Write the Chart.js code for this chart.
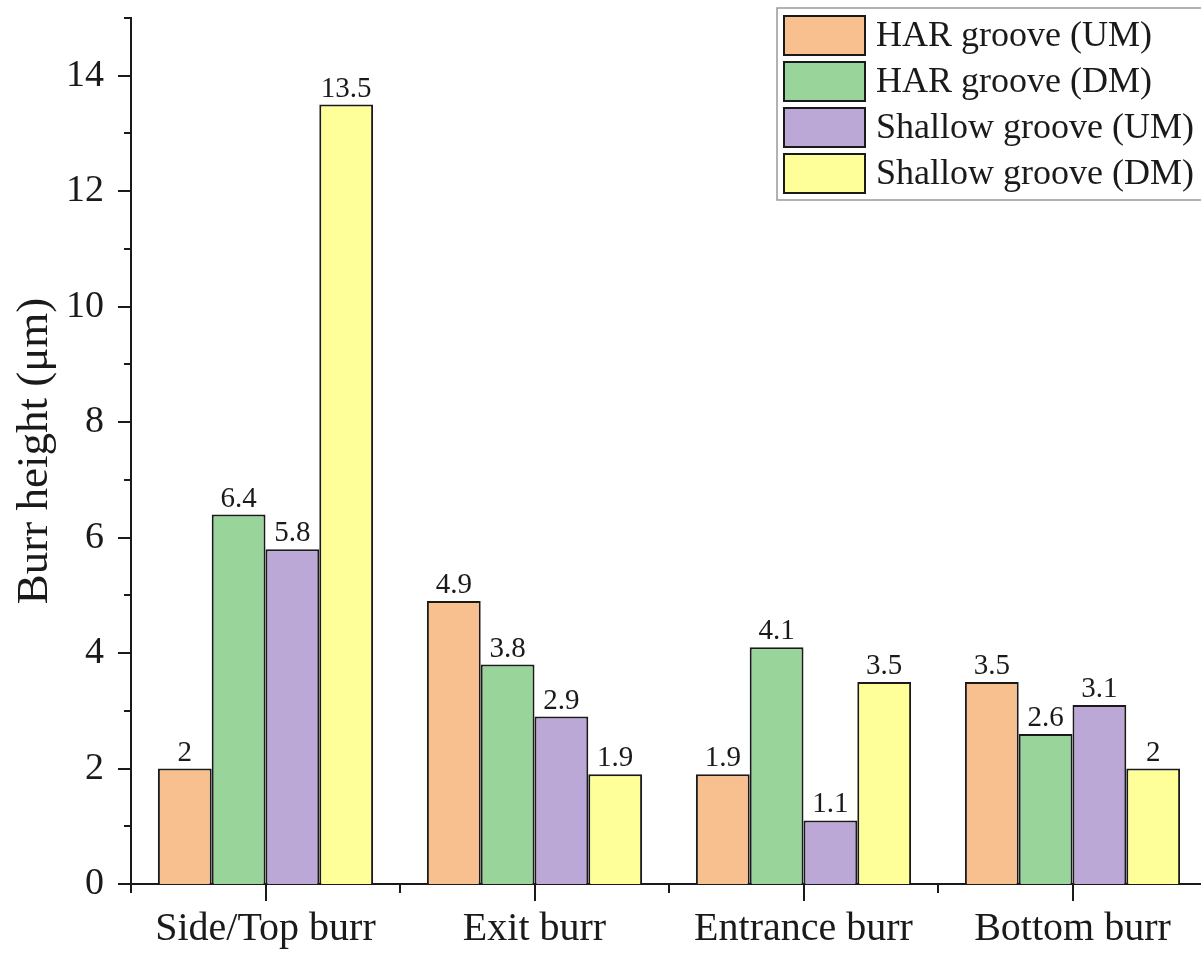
<!DOCTYPE html>
<html>
<head>
<meta charset="utf-8">
<script src="https://cdn.jsdelivr.net/npm/chart.js@4.4.1/dist/chart.umd.min.js"></script>
<style>
  html, body { margin: 0; padding: 0; background: #fff; overflow: hidden; }
  #wrap { width: 1210px; height: 954px; }
</style>
</head>
<body>
<div id="wrap"><canvas id="c" width="1210" height="954"></canvas></div>
<script>
// Burr heights (µm) per burr location and groove / milling mode
const categories = ['Side/Top burr', 'Exit burr', 'Entrance burr', 'Bottom burr'];
const seriesNames = ['HAR groove (UM)', 'HAR groove (DM)', 'Shallow groove (UM)', 'Shallow groove (DM)'];
const harUM = [2, 4.9, 1.9, 3.5];
const harDM = [6.4, 3.8, 4.1, 2.6];
const shallowUM = [5.8, 2.9, 1.1, 3.1];
const shallowDM = [13.5, 1.9, 3.5, 2];
const yTicks = [0, 2, 4, 6, 8, 10, 12, 14];

const colors = ['#F9C08F', '#99D59B', '#BBA8D6', '#FFFF99'];
const seriesValues = [harUM, harDM, shallowUM, shallowDM];

const SERIF = '"Liberation Serif", "Times New Roman", serif';
const INK = '#1a1a1a';

// Outward major/minor tick marks on both axes
const tickPlugin = {
  id: 'tickMarks',
  afterDraw(chart) {
    const ctx = chart.ctx;
    const y = chart.scales.y, x = chart.scales.x;
    ctx.save();
    ctx.strokeStyle = INK;
    ctx.lineWidth = 2;
    for (let v = 0; v <= 15; v++) {
      const py = Math.round(y.getPixelForValue(v));
      const len = yTicks.includes(v) ? 13 : 7;
      ctx.beginPath();
      ctx.moveTo(y.right, py);
      ctx.lineTo(y.right - len, py);
      ctx.stroke();
    }
    const n = categories.length;
    for (let i = 0; i < n; i++) {
      const px = Math.round(x.getPixelForValue(i));
      ctx.beginPath();
      ctx.moveTo(px, x.top);
      ctx.lineTo(px, x.top + 17);
      ctx.stroke();
    }
    for (let i = 0; i <= n; i++) {
      const px = Math.round(x.getPixelForValue(i - 0.5));
      ctx.beginPath();
      ctx.moveTo(px, x.top);
      ctx.lineTo(px, x.top + 9);
      ctx.stroke();
    }
    ctx.restore();
  }
};

// Value labels above each bar
const valueLabels = {
  id: 'valueLabels',
  afterDatasetsDraw(chart) {
    const ctx = chart.ctx;
    ctx.save();
    ctx.font = '29px ' + SERIF;
    ctx.fillStyle = INK;
    ctx.textAlign = 'center';
    ctx.textBaseline = 'alphabetic';
    chart.data.datasets.forEach((ds, di) => {
      chart.getDatasetMeta(di).data.forEach((bar, i) => {
        ctx.fillText(String(ds.data[i]), bar.x, bar.y - 8);
      });
    });
    ctx.restore();
  }
};

// Boxed legend in the upper right corner
const boxLegend = {
  id: 'boxLegend',
  afterDraw(chart) {
    const ctx = chart.ctx;
    const left = 777, top = 8, width = 440, height = 192;
    ctx.save();
    ctx.fillStyle = '#fff';
    ctx.fillRect(left, top, width, height);
    ctx.strokeStyle = '#999';
    ctx.lineWidth = 1.5;
    ctx.strokeRect(left, top, width, height);
    ctx.font = '36px ' + SERIF;
    ctx.textBaseline = 'middle';
    ctx.textAlign = 'left';
    chart.data.datasets.forEach((ds, i) => {
      const sy = 16 + i * 46;
      ctx.fillStyle = ds.backgroundColor;
      ctx.fillRect(784, sy, 81, 39);
      ctx.strokeStyle = INK;
      ctx.lineWidth = 2;
      ctx.strokeRect(784, sy, 81, 39);
      ctx.fillStyle = INK;
      ctx.fillText(ds.label, 876, sy + 21);
    });
    ctx.restore();
  }
};

new Chart(document.getElementById('c'), {
  type: 'bar',
  data: {
    labels: categories,
    datasets: seriesNames.map((name, i) => ({
      label: name,
      data: seriesValues[i],
      backgroundColor: colors[i],
      borderColor: INK,
      borderWidth: 2,
      borderSkipped: 'bottom',
      categoryPercentage: 0.8,
      barPercentage: 1.0
    }))
  },
  options: {
    responsive: false,
    animation: false,
    layout: { padding: { top: 18, right: 3, left: 0, bottom: 0 } },
    plugins: {
      legend: { display: false },
      tooltip: { enabled: false }
    },
    scales: {
      x: {
        grid: { display: false, drawTicks: false },
        border: { display: true, color: INK, width: 2 },
        ticks: {
          font: { family: SERIF, size: 40 },
          color: INK,
          padding: 21,
          maxRotation: 0
        },
        afterFit(scale) {
          scale.height = 70;
          scale.paddingLeft = 0;
          scale.paddingRight = 0;
        }
      },
      y: {
        min: 0,
        max: 15,
        grid: { display: false, drawTicks: false },
        border: { display: true, color: INK, width: 2 },
        afterBuildTicks(scale) {
          scale.ticks = yTicks.map(v => ({ value: v }));
        },
        ticks: {
          font: { family: SERIF, size: 38 },
          color: INK,
          padding: 27
        },
        title: {
          display: true,
          text: 'Burr height (μm)',
          font: { family: SERIF, size: 45 },
          color: INK,
          padding: { top: 8, bottom: 0 }
        },
        afterFit(scale) {
          scale.width = 131;
          scale.paddingTop = 0;
          scale.paddingBottom = 0;
        }
      }
    }
  },
  plugins: [tickPlugin, valueLabels, boxLegend]
});
</script>
</body>
</html>
